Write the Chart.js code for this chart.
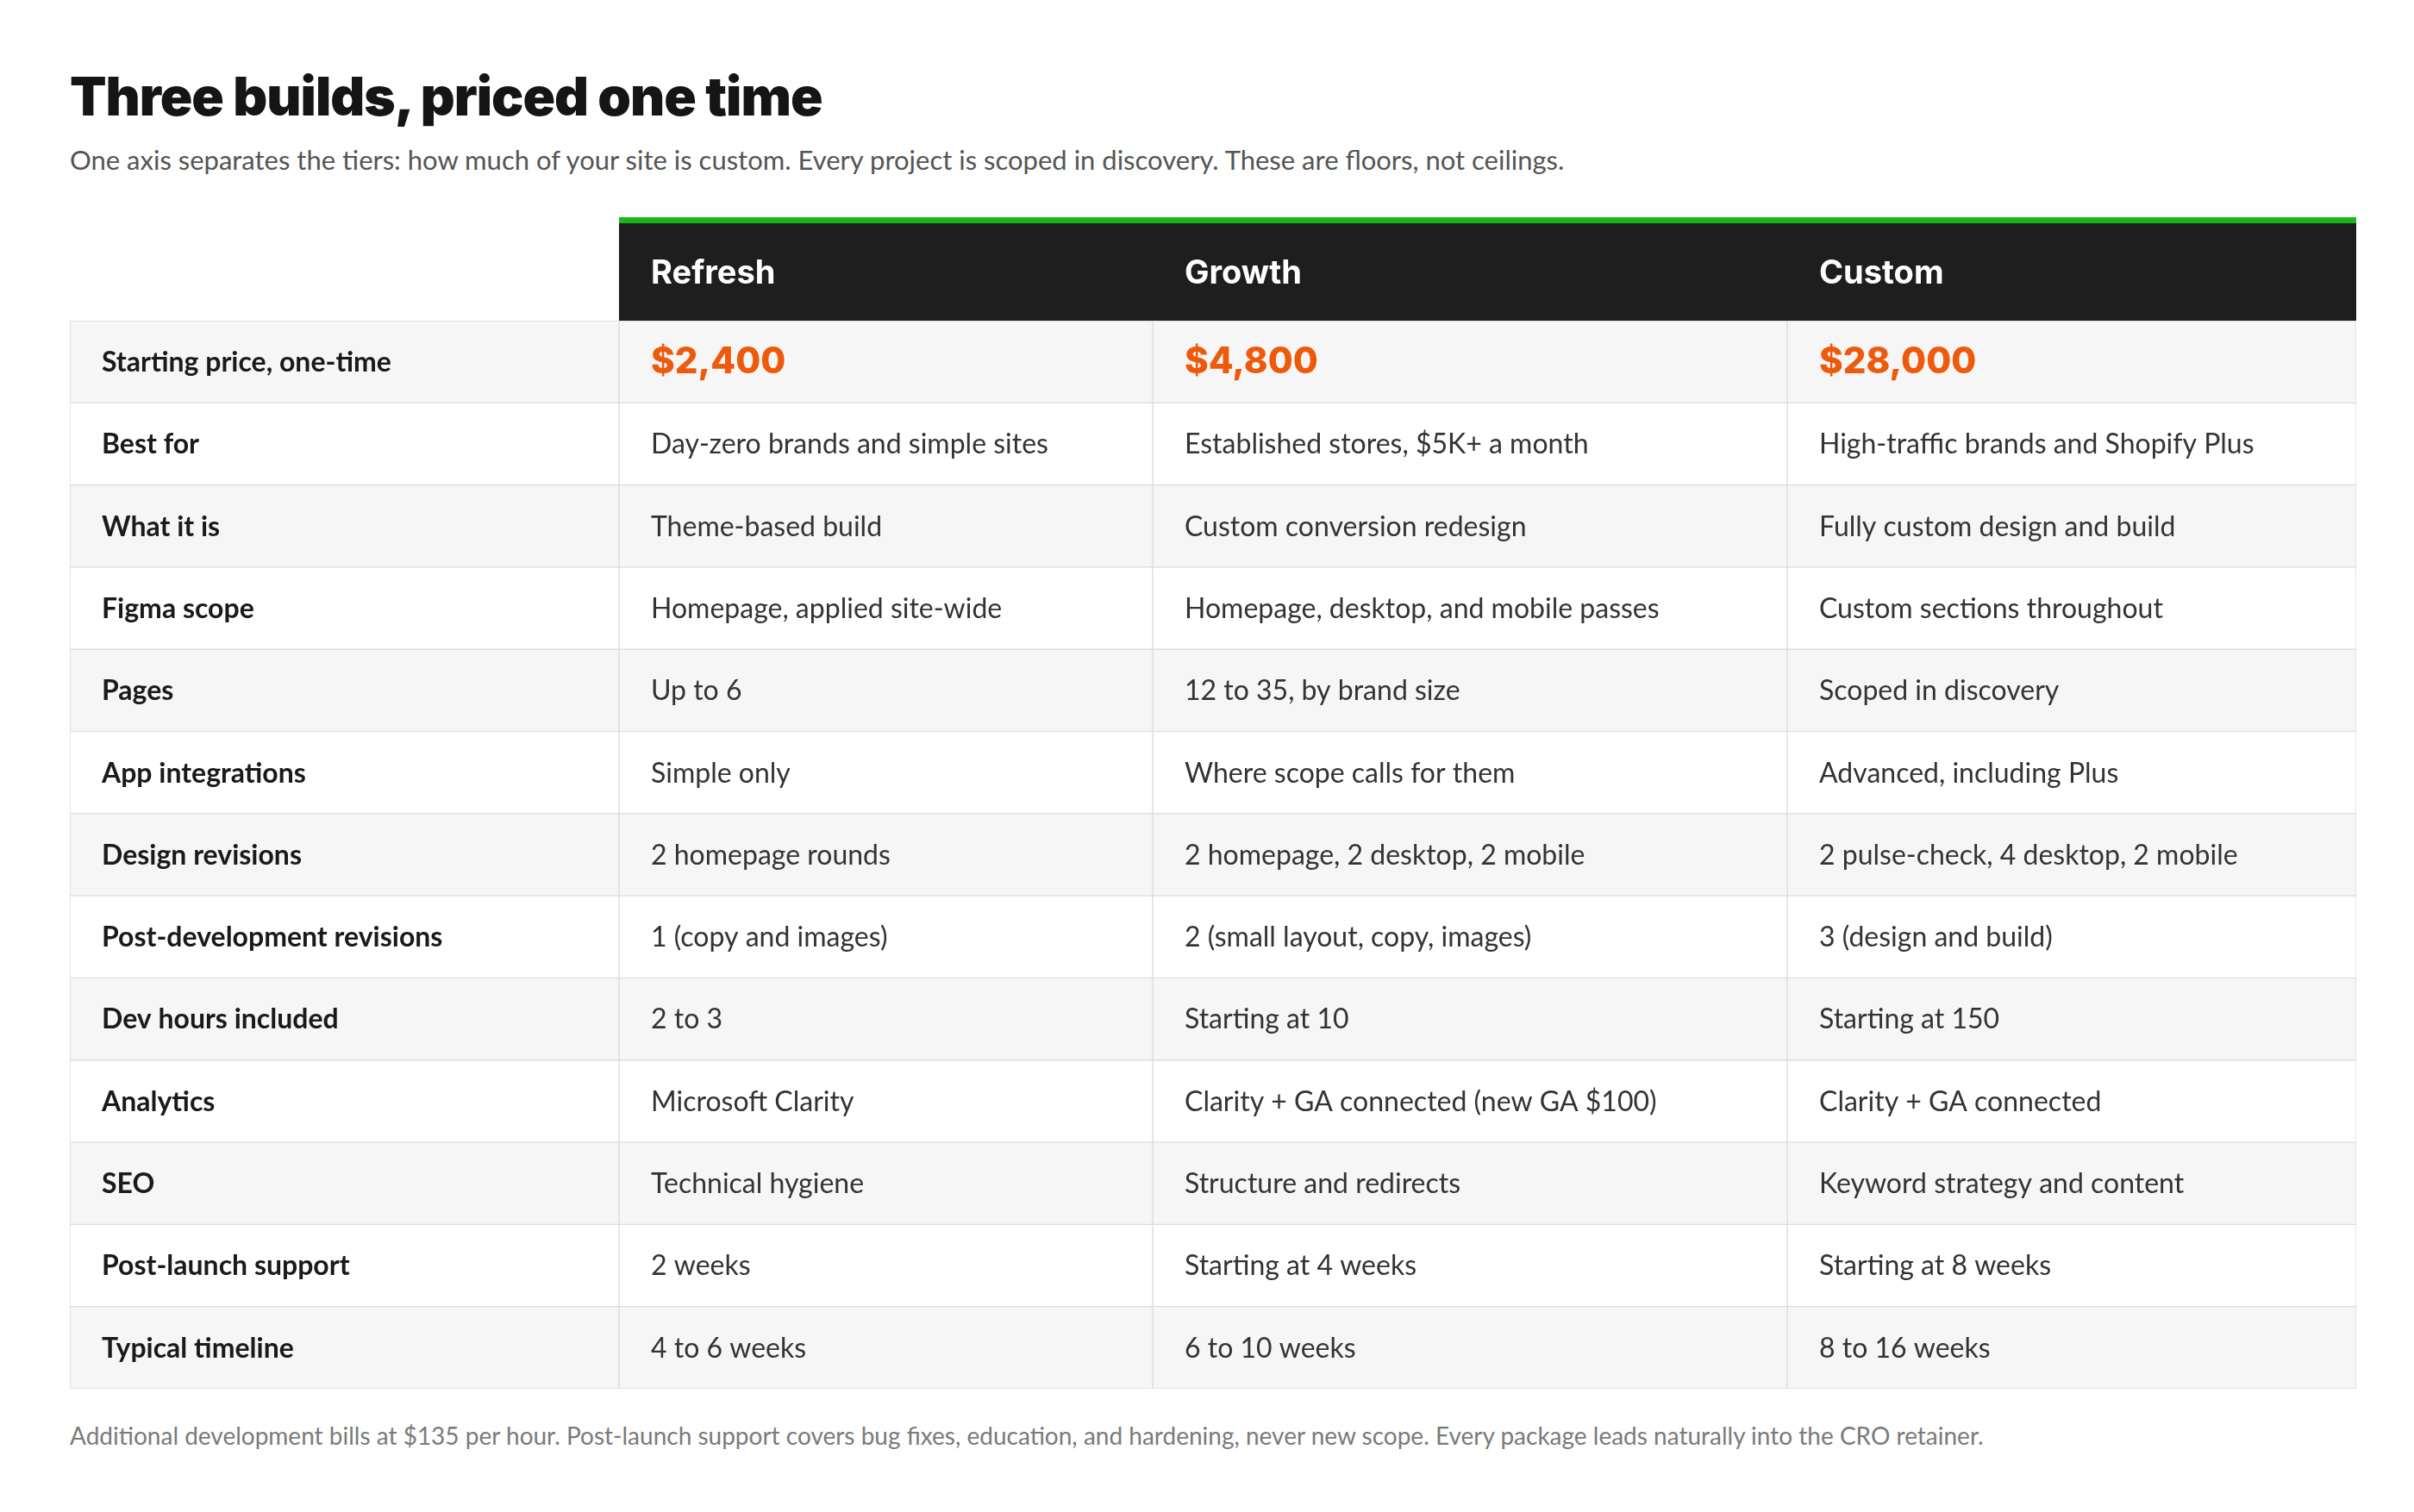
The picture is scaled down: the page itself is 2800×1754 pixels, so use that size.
<!DOCTYPE html>
<html><head><meta charset="utf-8">
<script src="https://cdn.jsdelivr.net/npm/chart.js@4"></script>
<style>
html,body{margin:0;padding:0;background:#fff;width:2800px;height:1754px;overflow:hidden;font-family:Lato,"Open Sans",sans-serif}
#title{position:absolute;left:81px;top:74px;font:900 62px Inter,sans-serif;color:#151515;letter-spacing:-1px;margin:0}
#sub{position:absolute;left:81px;top:166px;font:400 31px Lato,sans-serif;color:#555}
#foot{position:absolute;left:81px;top:1648px;font:400 28px Lato,sans-serif;color:#7a7a7a}
#c{position:absolute;left:80px;top:252px}
</style></head><body>
<h1 id="title">Three builds, priced one time</h1>
<div id="sub">One axis separates the tiers: how much of your site is custom. Every project is scoped in discovery. These are floors, not ceilings.</div>
<canvas id="c" width="2654" height="1360"></canvas>
<div id="foot">Additional development bills at $135 per hour. Post-launch support covers bug fixes, education, and hardening, never new scope. Every package leads naturally into the CRO retainer.</div>
<script>
const tiers = ["Refresh","Growth","Custom"];
const rowLabels = ["Starting price, one-time","Best for","What it is","Figma scope","Pages","App integrations","Design revisions","Post-development revisions","Dev hours included","Analytics","SEO","Post-launch support","Typical timeline"];
const refresh = ["$2,400","Day-zero brands and simple sites","Theme-based build","Homepage, applied site-wide","Up to 6","Simple only","2 homepage rounds","1 (copy and images)","2 to 3","Microsoft Clarity","Technical hygiene","2 weeks","4 to 6 weeks"];
const growth = ["$4,800","Established stores, $5K+ a month","Custom conversion redesign","Homepage, desktop, and mobile passes","12 to 35, by brand size","Where scope calls for them","2 homepage, 2 desktop, 2 mobile","2 (small layout, copy, images)","Starting at 10","Clarity + GA connected (new GA $100)","Structure and redirects","Starting at 4 weeks","6 to 10 weeks"];
const custom = ["$28,000","High-traffic brands and Shopify Plus","Fully custom design and build","Custom sections throughout","Scoped in discovery","Advanced, including Plus","2 pulse-check, 4 desktop, 2 mobile","3 (design and build)","Starting at 150","Clarity + GA connected","Keyword strategy and content","Starting at 8 weeks","8 to 16 weeks"];

// layout (x-units = px within table)
const EDGES = [0,637,1256,1992,2652];
const HEADER_H = 120, PAD = 37;
const cols = [rowLabels, refresh, growth, custom];
const rowBg = rowLabels.map((_,i)=> i%2===0 ? "#f6f6f6" : "#ffffff");

const datasets = cols.map((col,ci)=>({
  data: col.map(()=>[EDGES[ci],EDGES[ci+1]]),
  backgroundColor: rowBg,
  borderColor: "#dcdcdc", borderWidth: 1, borderSkipped: false,
  barPercentage: 1, categoryPercentage: 1, grouped: false
}));

const tablePlugin = {
  id:"tableText",
  afterDatasetsDraw(chart){
    const {ctx, scales:{x,y}, chartArea} = chart;
    ctx.save();
    // header
    const top = chartArea.top - HEADER_H;
    const x0 = x.getPixelForValue(EDGES[1]), x1 = x.getPixelForValue(EDGES[4]);
    ctx.fillStyle = "#1e1e1e"; ctx.fillRect(x0, top, x1-x0, HEADER_H);
    ctx.fillStyle = "#1db51d"; ctx.fillRect(x0, top, x1-x0, 7);
    ctx.fillStyle = "#fff"; ctx.font = "700 38px Inter, sans-serif"; ctx.textBaseline = "middle";
    tiers.forEach((t,i)=> ctx.fillText(t, x.getPixelForValue(EDGES[i+1])+PAD, top + 7 + (HEADER_H-7)/2 + 2));
    // cells
    rowLabels.forEach((_,r)=>{
      const py = y.getPixelForValue(r) + 1;
      cols.forEach((col,ci)=>{
        const px = x.getPixelForValue(EDGES[ci]) + PAD;
        if (ci===0){ ctx.font = "700 32px Lato, sans-serif"; ctx.fillStyle = "#1a1a1a"; }
        else if (r===0){ ctx.font = "800 42px Inter, sans-serif"; ctx.fillStyle = "#ee5a0c"; }
        else { ctx.font = "400 32px Lato, sans-serif"; ctx.fillStyle = "#333"; }
        ctx.fillText(col[r], px, py);
      });
    });
    ctx.restore();
  }
};

new Chart(document.getElementById("c"), {
  type:"bar",
  data:{ labels: rowLabels, datasets },
  options:{
    indexAxis:"y", responsive:false, animation:false, devicePixelRatio:1,
    layout:{ padding:{ top:HEADER_H, left:1, right:1, bottom:1 } },
    plugins:{ legend:{display:false}, tooltip:{enabled:false} },
    scales:{
      x:{ type:"linear", min:0, max:2652, display:false },
      y:{ type:"category", display:false, offset:true }
    }
  },
  plugins:[tablePlugin]
});
</script>
</body></html>
